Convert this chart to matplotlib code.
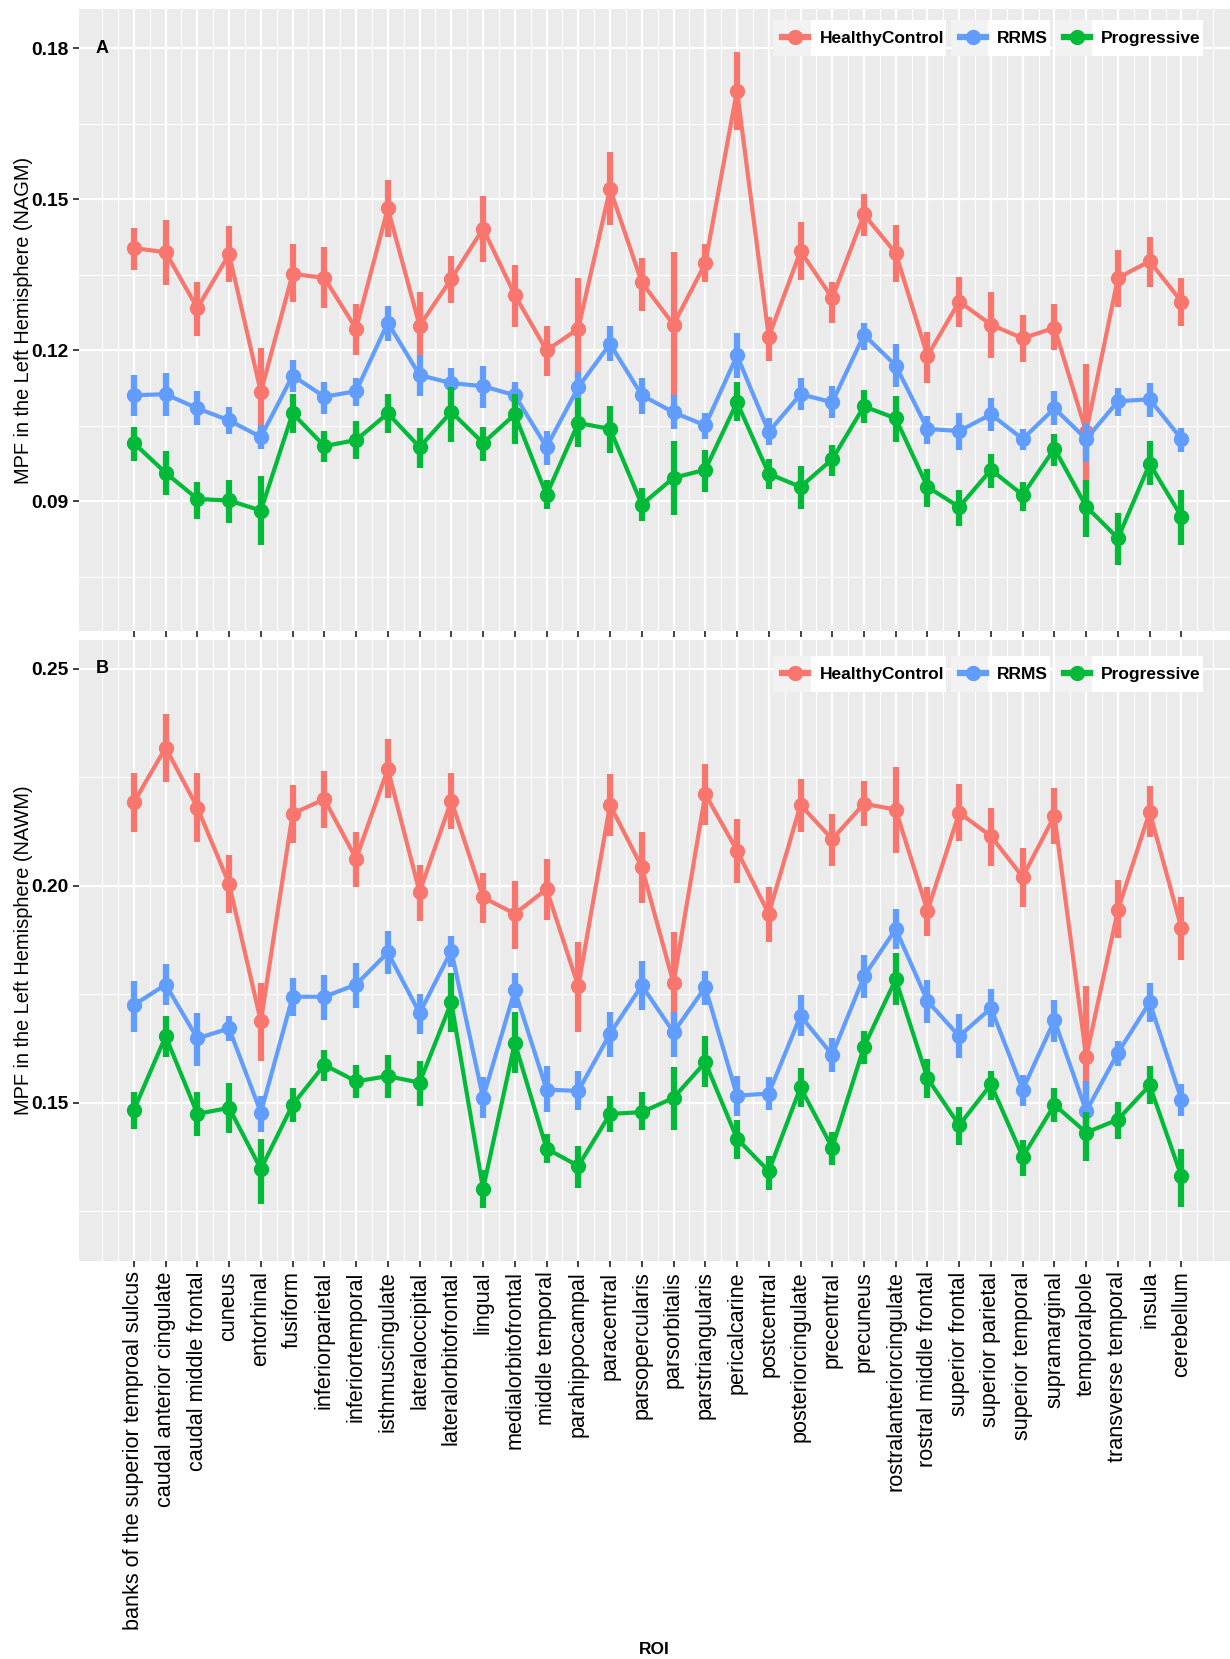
import numpy as np
import matplotlib
matplotlib.use("Agg")
import matplotlib.pyplot as plt
from matplotlib.lines import Line2D
from matplotlib.patches import Rectangle

plt.rcParams["font.family"] = ["Liberation Sans", "DejaVu Sans"]

# ==============================================================================
# DATA
# ==============================================================================
rois = [
    "banks of the superior temproal sulcus", "caudal anterior cingulate",
    "caudal middle frontal", "cuneus", "entorhinal", "fusiform",
    "inferiorparietal", "inferiortemporal", "isthmuscingulate",
    "lateraloccipital", "lateralorbitofrontal", "lingual",
    "medialorbitofrontal", "middle temporal", "parahippocampal", "paracentral",
    "parsopercularis", "parsorbitalis", "parstriangularis", "pericalcarine",
    "postcentral", "posteriorcingulate", "precentral", "precuneus",
    "rostralanteriorcingulate", "rostral middle frontal", "superior frontal",
    "superior parietal", "superior temporal", "supramarginal", "temporalpole",
    "transverse temporal", "insula", "cerebellum",
]
groups = ["HealthyControl", "RRMS", "Progressive"]

# --- Panel A: NAGM ---
nagm_hc = [0.1403, 0.1395, 0.1284, 0.1391, 0.1117, 0.1352, 0.1344, 0.1243, 0.1482, 0.1249,
           0.1342, 0.1442, 0.1310, 0.1200, 0.1243, 0.1521, 0.1335, 0.1251, 0.1373, 0.1716,
           0.1227, 0.1397, 0.1304, 0.1470, 0.1393, 0.1189, 0.1297, 0.1251, 0.1224, 0.1245,
           0.1038, 0.1344, 0.1377, 0.1297]
nagm_hc_lo = [0.1359, 0.1330, 0.1229, 0.1336, 0.1036, 0.1296, 0.1284, 0.1190, 0.1425, 0.1190,
              0.1294, 0.1375, 0.1247, 0.1150, 0.1146, 0.1450, 0.1279, 0.1105, 0.1335, 0.1638,
              0.1178, 0.1340, 0.1255, 0.1427, 0.1335, 0.1135, 0.1247, 0.1184, 0.1176, 0.1200,
              0.0898, 0.1286, 0.1326, 0.1249]
nagm_hc_hi = [0.1444, 0.1459, 0.1335, 0.1448, 0.1205, 0.1411, 0.1405, 0.1292, 0.1539, 0.1316,
              0.1387, 0.1506, 0.1370, 0.1249, 0.1343, 0.1594, 0.1383, 0.1395, 0.1411, 0.1792,
              0.1267, 0.1454, 0.1336, 0.1511, 0.1449, 0.1237, 0.1346, 0.1316, 0.1271, 0.1292,
              0.1174, 0.1399, 0.1425, 0.1344]

nagm_rr = [0.1111, 0.1113, 0.1085, 0.1061, 0.1028, 0.1150, 0.1108, 0.1119, 0.1255, 0.1151,
           0.1135, 0.1129, 0.1111, 0.1008, 0.1127, 0.1213, 0.1111, 0.1077, 0.1051, 0.1190,
           0.1038, 0.1113, 0.1097, 0.1231, 0.1170, 0.1044, 0.1040, 0.1073, 0.1024, 0.1085,
           0.1024, 0.1099, 0.1103, 0.1024]
nagm_rr_lo = [0.1069, 0.1069, 0.1051, 0.1034, 0.1004, 0.1117, 0.1073, 0.1089, 0.1219, 0.1109,
              0.1097, 0.1086, 0.1085, 0.0973, 0.1093, 0.1178, 0.1073, 0.1043, 0.1024, 0.1146,
              0.1012, 0.1081, 0.1065, 0.1200, 0.1127, 0.1014, 0.1002, 0.1040, 0.1002, 0.1052,
              0.0979, 0.1069, 0.1067, 0.0999]
nagm_rr_hi = [0.1151, 0.1156, 0.1119, 0.1087, 0.1052, 0.1181, 0.1138, 0.1146, 0.1289, 0.1190,
              0.1166, 0.1170, 0.1138, 0.1040, 0.1158, 0.1249, 0.1146, 0.1111, 0.1075, 0.1235,
              0.1065, 0.1146, 0.1129, 0.1255, 0.1213, 0.1070, 0.1075, 0.1105, 0.1044, 0.1119,
              0.1056, 0.1125, 0.1135, 0.1046]

nagm_pr = [0.1016, 0.0957, 0.0905, 0.0902, 0.0882, 0.1075, 0.1010, 0.1022, 0.1075, 0.1008,
           0.1078, 0.1016, 0.1073, 0.0913, 0.1056, 0.1044, 0.0894, 0.0947, 0.0963, 0.1097,
           0.0955, 0.0929, 0.0984, 0.1089, 0.1065, 0.0929, 0.0889, 0.0963, 0.0913, 0.1005,
           0.0890, 0.0827, 0.0975, 0.0870]
nagm_pr_lo = [0.0981, 0.0912, 0.0866, 0.0858, 0.0813, 0.1036, 0.0978, 0.0984, 0.1036, 0.0967,
              0.1018, 0.0981, 0.1014, 0.0886, 0.1008, 0.0997, 0.0862, 0.0874, 0.0919, 0.1059,
              0.0924, 0.0886, 0.0951, 0.1056, 0.1018, 0.0889, 0.0851, 0.0927, 0.0882, 0.0971,
              0.0830, 0.0773, 0.0932, 0.0813]
nagm_pr_hi = [0.1048, 0.1000, 0.0939, 0.0943, 0.0951, 0.1113, 0.1040, 0.1059, 0.1113, 0.1046,
              0.1127, 0.1048, 0.1113, 0.0943, 0.1105, 0.1089, 0.0927, 0.1020, 0.1003, 0.1138,
              0.0984, 0.0970, 0.1012, 0.1121, 0.1109, 0.0965, 0.0923, 0.0995, 0.0939, 0.1035,
              0.0943, 0.0878, 0.1020, 0.0923]

# --- Panel B: NAWM ---
nawm_hc = [0.2192, 0.2318, 0.2180, 0.2004, 0.1687, 0.2166, 0.2199, 0.2062, 0.2269, 0.1985,
           0.2196, 0.1973, 0.1935, 0.1992, 0.1768, 0.2186, 0.2043, 0.1775, 0.2211, 0.2081,
           0.1935, 0.2186, 0.2107, 0.2189, 0.2175, 0.1942, 0.2168, 0.2114, 0.2020, 0.2161,
           0.1605, 0.1944, 0.2170, 0.1902]
nawm_hc_lo = [0.2123, 0.2239, 0.2100, 0.1938, 0.1596, 0.2098, 0.2133, 0.1996, 0.2203, 0.1919,
              0.2130, 0.1913, 0.1855, 0.1921, 0.1662, 0.2114, 0.1960, 0.1662, 0.2139, 0.2006,
              0.1869, 0.2123, 0.2045, 0.2137, 0.2076, 0.1885, 0.2102, 0.2045, 0.1951, 0.2095,
              0.1436, 0.1879, 0.2111, 0.1829]
nawm_hc_hi = [0.2260, 0.2396, 0.2260, 0.2070, 0.1775, 0.2232, 0.2265, 0.2123, 0.2337, 0.2048,
              0.2260, 0.2029, 0.2010, 0.2062, 0.1869, 0.2258, 0.2123, 0.1893, 0.2281, 0.2154,
              0.1998, 0.2246, 0.2164, 0.2241, 0.2274, 0.1996, 0.2234, 0.2180, 0.2086, 0.2224,
              0.1768, 0.2013, 0.2230, 0.1973]

nawm_rr = [0.1725, 0.1772, 0.1648, 0.1671, 0.1477, 0.1744, 0.1744, 0.1772, 0.1846, 0.1706,
           0.1850, 0.1511, 0.1759, 0.1530, 0.1527, 0.1659, 0.1770, 0.1662, 0.1766, 0.1516,
           0.1521, 0.1700, 0.1610, 0.1791, 0.1900, 0.1734, 0.1653, 0.1718, 0.1530, 0.1690,
           0.1480, 0.1615, 0.1731, 0.1507]
nawm_rr_lo = [0.1662, 0.1725, 0.1584, 0.1643, 0.1433, 0.1700, 0.1690, 0.1718, 0.1797, 0.1657,
              0.1813, 0.1464, 0.1718, 0.1478, 0.1483, 0.1605, 0.1714, 0.1605, 0.1725, 0.1469,
              0.1483, 0.1653, 0.1571, 0.1740, 0.1855, 0.1684, 0.1603, 0.1674, 0.1492, 0.1640,
              0.1412, 0.1584, 0.1686, 0.1469]
nawm_rr_hi = [0.1780, 0.1819, 0.1706, 0.1700, 0.1516, 0.1787, 0.1794, 0.1822, 0.1895, 0.1751,
              0.1885, 0.1558, 0.1799, 0.1584, 0.1573, 0.1709, 0.1827, 0.1709, 0.1803, 0.1561,
              0.1558, 0.1747, 0.1648, 0.1841, 0.1947, 0.1782, 0.1704, 0.1761, 0.1563, 0.1737,
              0.1549, 0.1643, 0.1775, 0.1544]

nawm_pr = [0.1483, 0.1653, 0.1474, 0.1488, 0.1347, 0.1495, 0.1587, 0.1549, 0.1561, 0.1546,
           0.1731, 0.1301, 0.1638, 0.1394, 0.1354, 0.1474, 0.1478, 0.1511, 0.1593, 0.1417,
           0.1342, 0.1535, 0.1396, 0.1629, 0.1784, 0.1556, 0.1448, 0.1542, 0.1375, 0.1495,
           0.1431, 0.1461, 0.1540, 0.1330]
nawm_pr_lo = [0.1439, 0.1605, 0.1422, 0.1429, 0.1267, 0.1455, 0.1549, 0.1511, 0.1511, 0.1492,
              0.1662, 0.1257, 0.1568, 0.1361, 0.1304, 0.1433, 0.1436, 0.1436, 0.1535, 0.1370,
              0.1299, 0.1490, 0.1356, 0.1589, 0.1725, 0.1511, 0.1403, 0.1507, 0.1332, 0.1455,
              0.1365, 0.1417, 0.1497, 0.1260]
nawm_pr_hi = [0.1525, 0.1700, 0.1524, 0.1546, 0.1417, 0.1533, 0.1621, 0.1587, 0.1610, 0.1596,
              0.1799, 0.1345, 0.1709, 0.1427, 0.1401, 0.1516, 0.1524, 0.1582, 0.1653, 0.1460,
              0.1377, 0.1580, 0.1433, 0.1665, 0.1844, 0.1601, 0.1490, 0.1574, 0.1414, 0.1533,
              0.1478, 0.1502, 0.1584, 0.1394]

COLORS = {"HealthyControl": "#F8766D", "RRMS": "#619CFF", "Progressive": "#00BA38"}
PANEL_BG = "#EBEBEB"

# ==============================================================================
# HELPERS
# ==============================================================================

def draw_panel(ax, series, yticks, yminor, ylim, ylabel, letter, legend_y):
    x = np.arange(1, len(rois) + 1)
    for name, (m, lo, hi) in zip(groups, series):
        c = COLORS[name]
        ax.vlines(x, lo, hi, color=c, lw=4.5, zorder=3)
        ax.plot(x, m, "-o", color=c, lw=3, ms=10, zorder=3)

    ax.set_facecolor(PANEL_BG)
    ax.set_xlim(-0.73, 35.53)
    ax.set_ylim(*ylim)
    ax.set_xticks(x)
    ax.set_xticks(np.arange(0, 35.01, 0.5), minor=True)
    ax.set_yticks(yticks)
    ax.set_yticks(yminor, minor=True)
    ax.grid(True, which="major", color="white", lw=1.6)
    ax.grid(True, which="minor", color="white", lw=0.8)
    ax.set_axisbelow(True)
    for s in ax.spines.values():
        s.set_visible(False)
    ax.tick_params(which="major", length=4, width=1.3, color="#333333")
    ax.tick_params(which="minor", length=0)
    ax.set_yticklabels([f"{v:.2f}" for v in yticks], fontsize=13.8,
                       fontweight="bold", color="black")
    ax.set_ylabel(ylabel, fontsize=14.4)
    ax.yaxis.set_label_coords(-0.040, 0.5)

    ax.text(0, yticks[-1], letter, ha="center", va="center", fontsize=13,
            fontweight="bold")

    handles = [Line2D([0], [0], color=COLORS[g], lw=4.5, marker="o", ms=10)
               for g in groups]
    leg = ax.legend(handles, groups, loc="center right", ncol=3,
                    bbox_to_anchor=(0.988, legend_y), frameon=False,
                    prop={"weight": "bold", "size": 12.5},
                    handlelength=1.5, columnspacing=0.9, handletextpad=0.65)
    return leg


def legend_boxes(fig, ax, leg):
    # grey key box + white label box behind every legend entry
    r = fig.canvas.get_renderer()
    inv = ax.transAxes.inverted()
    for h, t in zip(leg.legend_handles, leg.get_texts()):
        hb = h.get_window_extent(r)
        tb = t.get_window_extent(r)
        yc = (tb.y0 + tb.y1) / 2
        y0, y1 = yc - 18, yc + 18
        mid = tb.x0 - 9
        for (xa, xb, fc) in [(hb.x0 - 2, mid, "#F2F2F2"), (mid, tb.x1 + 2, "white")]:
            (ax0, ay0), (ax1, ay1) = inv.transform([(xa, y0), (xb, y1)])
            ax.add_patch(Rectangle((ax0, ay0), ax1 - ax0, ay1 - ay0,
                                   transform=ax.transAxes, facecolor=fc,
                                   edgecolor="none", zorder=4.5, clip_on=False))


# ==============================================================================
# MAIN
# ==============================================================================
fig = plt.figure(figsize=(12.3, 16.59), dpi=100)
fig.patch.set_facecolor("white")

axA = fig.add_axes([0.0642, 0.6197, 0.9358, 0.3749])
axB = fig.add_axes([0.0642, 0.2399, 0.9358, 0.3743])

legA = draw_panel(axA,
                  [(nagm_hc, nagm_hc_lo, nagm_hc_hi),
                   (nagm_rr, nagm_rr_lo, nagm_rr_hi),
                   (nagm_pr, nagm_pr_lo, nagm_pr_hi)],
                  [0.09, 0.12, 0.15, 0.18], [0.075, 0.105, 0.135, 0.165],
                  (0.0643, 0.1878), "MPF in the Left Hemisphere (NAGM)", "A", 0.953)
axA.set_xticklabels([])

legB = draw_panel(axB,
                  [(nawm_hc, nawm_hc_lo, nawm_hc_hi),
                   (nawm_rr, nawm_rr_lo, nawm_rr_hi),
                   (nawm_pr, nawm_pr_lo, nawm_pr_hi)],
                  [0.15, 0.20, 0.25], [0.125, 0.175, 0.225],
                  (0.1135, 0.2566), "MPF in the Left Hemisphere (NAWM)", "B", 0.945)
axB.set_xticklabels(rois, rotation=90, fontsize=15.6, color="black")
axB.set_xlabel("ROI", fontsize=12.5, fontweight="bold", va="top")
axB.xaxis.set_label_coords(0.5, -0.6135)

fig.canvas.draw()
legend_boxes(fig, axA, legA)
legend_boxes(fig, axB, legB)

fig.savefig("out.png", dpi=100)
